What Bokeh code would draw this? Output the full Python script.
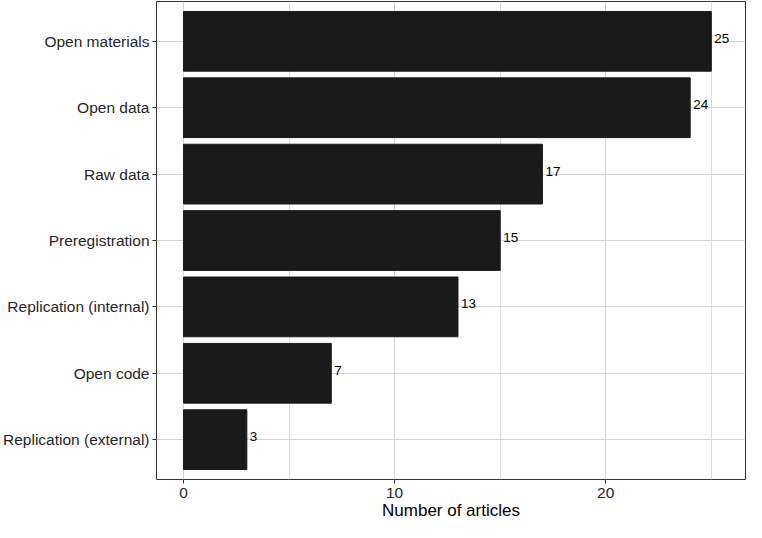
from bokeh.plotting import figure
from bokeh.models import ColumnDataSource, FactorRange, Range1d, FixedTicker
from bokeh.core.properties import value
from bokeh.embed import file_html
from bokeh.resources import INLINE

categories = ["Open materials", "Open data", "Raw data", "Preregistration",
              "Replication (internal)", "Open code", "Replication (external)"]
counts = [25, 24, 17, 15, 13, 7, 3]
x_ticks = [0, 10, 20]
x_minor = [5, 15, 25]

cats_bottom_up = categories[::-1]
src = ColumnDataSource(dict(cat=categories, n=counts, label=[str(c) for c in counts]))

FONT = "Liberation Sans"

p = figure(width=746, height=522, output_backend="svg", toolbar_location=None,
           y_range=FactorRange(factors=cats_bottom_up, range_padding=0.1,
                               range_padding_units="absolute"),
           x_range=Range1d(-1.28, 26.62),
           min_border_left=150, min_border_right=1, min_border_top=1, min_border_bottom=0)

p.hbar(y="cat", left=0, right="n", height=0.9, source=src,
       fill_color="#1a1a1a", line_color="#1a1a1a")
p.text(x="n", y="cat", text="label", source=src, x_offset=3, y_offset=-3,
       text_font=value(FONT), text_font_size="13.5px", text_color="#000000",
       text_baseline="middle", text_align="left")

p.background_fill_color = "white"
p.border_fill_color = "white"
p.outline_line_color = "#333333"
p.outline_line_width = 1

p.xaxis.ticker = FixedTicker(ticks=x_ticks, minor_ticks=x_minor)
p.xgrid.ticker = FixedTicker(ticks=x_ticks, minor_ticks=x_minor)
p.xgrid.grid_line_color = "#d4d4d4"
p.xgrid.minor_grid_line_color = "#dcdcdc"
p.ygrid.grid_line_color = "#d4d4d4"

for ax in (p.xaxis[0], p.yaxis[0]):
    ax.axis_line_color = None
    ax.major_tick_line_color = "#333333"
    ax.major_tick_out = 4
    ax.major_tick_in = 0
    ax.minor_tick_line_color = None
    ax.major_label_text_font = FONT
    ax.major_label_text_font_size = "15.5px"
    ax.major_label_text_color = "#262626"

p.yaxis.major_label_standoff = 3
p.xaxis.major_label_standoff = 4
p.xaxis.axis_label = "Number of articles"
p.xaxis.axis_label_text_font = FONT
p.xaxis.axis_label_text_font_size = "17px"
p.xaxis.axis_label_text_font_style = "normal"
p.xaxis.axis_label_text_color = "#000000"
p.xaxis.axis_label_standoff = 0

open("out.html", "w").write(file_html(p, INLINE))
